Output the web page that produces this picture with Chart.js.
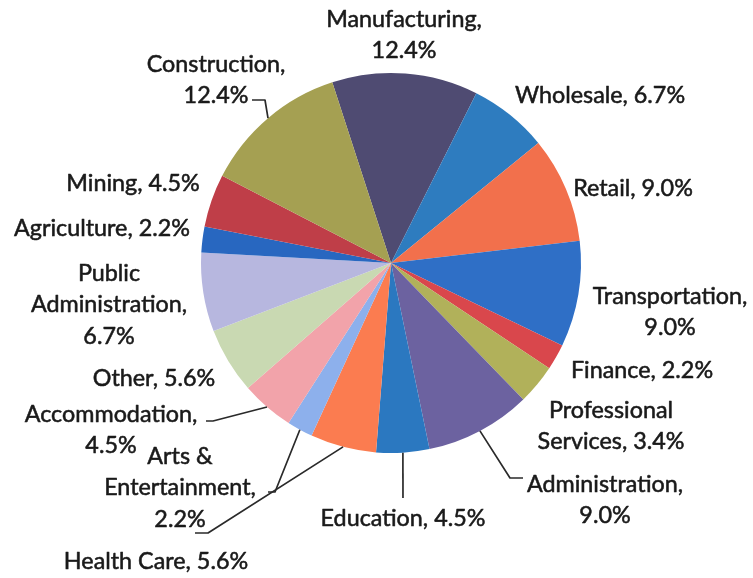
<!DOCTYPE html>
<html>
<head>
<meta charset="utf-8">
<script src="https://cdn.jsdelivr.net/npm/chart.js"></script>
<style>
  html, body { margin: 0; padding: 0; background: #ffffff; }
  #wrap { width: 753px; height: 578px; }
</style>
</head>
<body>
<div id="wrap"><canvas id="c" width="753" height="578"></canvas></div>
<script>
// ---- data ----
const categories = ['Manufacturing', 'Wholesale', 'Retail', 'Transportation', 'Finance',
  'Professional Services', 'Administration', 'Education', 'Health Care', 'Arts & Entertainment',
  'Accommodation', 'Other', 'Public Administration', 'Agriculture', 'Mining', 'Construction'];
const shares = [12.4, 6.7, 9.0, 9.0, 2.2, 3.4, 9.0, 4.5, 5.6, 2.2, 4.5, 5.6, 6.7, 2.2, 4.5, 12.4];

// ---- styles ----
const sliceColors = ['#4f4b72', '#2e7cbf', '#f2704c', '#2f6fc6', '#d9474c', '#b1b15a', '#6c62a0',
  '#2b78c0', '#fb7c50', '#8db0ec', '#f2a3aa', '#c9d9b2', '#b7b7df', '#2867c0', '#bf3e48', '#a5a052'];

// label layout: word-break indices, text centre, first-line y, leader elbow points
const labelLayout = [
  { breaks: [1], x: 404, y: 19 },
  { breaks: [], x: 600, y: 95 },
  { breaks: [], x: 633, y: 188 },
  { breaks: [1], x: 670, y: 296 },
  { breaks: [], x: 642, y: 370 },
  { breaks: [1], x: 611, y: 410 },
  { breaks: [1], x: 605, y: 484, leader: [[510, 478], [523, 478]] },
  { breaks: [], x: 403, y: 518, leader: [[403, 498]] },
  { breaks: [], x: 156, y: 561, leader: [[208, 533], [195, 533]] },
  { breaks: [2, 3], x: 180, y: 456, leader: [[275, 492], [268, 492]] },
  { breaks: [1], x: 111, y: 414, leader: [[213, 421], [206, 421]] },
  { breaks: [], x: 154, y: 378 },
  { breaks: [1, 2], x: 109, y: 273 },
  { breaks: [], x: 102, y: 228 },
  { breaks: [], x: 133, y: 183 },
  { breaks: [1], x: 216, y: 64, leader: [[265, 100], [252, 100]] }
];
const lineHeight = 31.5;

function labelLines(i) {
  const words = (categories[i] + ', ' + shares[i].toFixed(1) + '%').split(' ');
  const b = [0].concat(labelLayout[i].breaks, [words.length]);
  const out = [];
  for (let k = 0; k < b.length - 1; k++) out.push(words.slice(b[k], b[k + 1]).join(' '));
  return out;
}

const labelPlugin = {
  id: 'outerLabels',
  afterDatasetsDraw(chart) {
    const ctx = chart.ctx;
    const meta = chart.getDatasetMeta(0);
    ctx.save();
    // calibrate font size to the reference width of one label
    ctx.font = '100px Lato';
    const ref = ctx.measureText('Agriculture, 2.2%').width;
    const size = 100 * 176 / ref;
    ctx.font = size.toFixed(2) + 'px Lato';
    ctx.fillStyle = '#1a1a1a';
    ctx.strokeStyle = '#1a1a1a';
    ctx.lineWidth = 0.55;
    ctx.lineJoin = 'round';
    ctx.textAlign = 'center';
    ctx.textBaseline = 'middle';
    meta.data.forEach((arc, i) => {
      const L = labelLayout[i];
      if (L.leader) {
        const mid = (arc.startAngle + arc.endAngle) / 2;
        const r = arc.outerRadius;
        ctx.save();
        ctx.beginPath();
        ctx.moveTo(arc.x + Math.cos(mid) * r, arc.y + Math.sin(mid) * r);
        L.leader.forEach(p => ctx.lineTo(p[0], p[1]));
        ctx.strokeStyle = '#2a2a2a';
        ctx.lineWidth = 1.7;
        ctx.stroke();
        ctx.restore();
      }
      labelLines(i).forEach((t, k) => {
        ctx.fillText(t, L.x, L.y + k * lineHeight);
        ctx.strokeText(t, L.x, L.y + k * lineHeight);
      });
    });
    ctx.restore();
  }
};

new Chart(document.getElementById('c'), {
  type: 'pie',
  data: {
    labels: categories,
    datasets: [{
      data: shares,
      backgroundColor: sliceColors,
      borderWidth: 0
    }]
  },
  options: {
    responsive: false,
    animation: false,
    rotation: -18,
    layout: { padding: { left: 201, right: 172, top: 73, bottom: 125 } },
    plugins: { legend: { display: false }, tooltip: { enabled: false } }
  },
  plugins: [labelPlugin]
});
</script>
</body>
</html>
